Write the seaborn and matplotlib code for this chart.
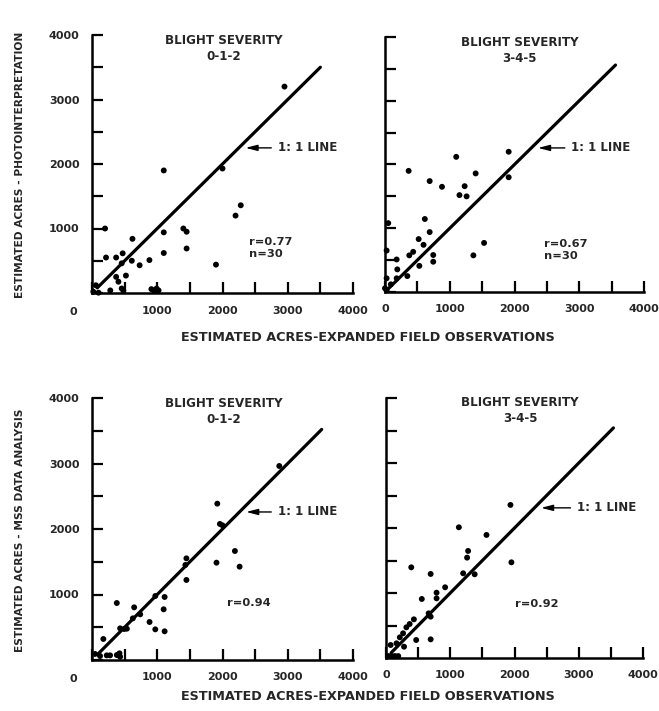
import matplotlib
matplotlib.use("Agg")
import matplotlib.pyplot as plt
from matplotlib.ticker import MultipleLocator, FixedLocator
import seaborn as sns

# ---------------- data ----------------
photo_low_x = [2950, 1100, 2000, 2280, 2200, 200, 1100, 1400, 1450, 1450, 1100, 620, 470, 215, 370,
               610, 730, 880, 455, 1900, 520, 370, 405, 60, 280, 455, 480, 910, 950, 990, 1020, 1000, 20, 100]
photo_low_y = [3200, 1900, 1930, 1360, 1200, 1000, 940, 1000, 950, 690, 620, 840, 615, 550, 550,
               500, 430, 510, 460, 440, 270, 250, 175, 120, 40, 70, 40, 60, 40, 70, 40, 30, 20, 5]

photo_high_x = [1910, 1910, 1100, 1400, 365, 690, 880, 1230, 1150, 1260, 50, 615, 690, 520, 595, 1530,
                1365, 435, 375, 745, 745, 530, 25, 180, 190, 345, 180, 25, 90, 0, 25]
photo_high_y = [2200, 1800, 2120, 1860, 1900, 1740, 1650, 1660, 1520, 1500, 1080, 1145, 940, 830, 740, 770,
                575, 630, 575, 580, 475, 410, 650, 510, 355, 250, 215, 215, 120, 58, 30]

mss_low_x = [2870, 1920, 1960, 2000, 1447, 1431, 1908, 2190, 2262, 1447, 970, 1113, 380, 646, 1098, 739,
             626, 882, 970, 1113, 431, 492, 534, 174, 46, 123, 226, 277, 380, 421, 431]
mss_low_y = [2962, 2387, 2077, 2056, 1552, 1451, 1486, 1664, 1425, 1222, 977, 962, 870, 804, 774, 697,
             636, 580, 468, 438, 483, 473, 478, 321, 92, 61, 71, 71, 76, 102, 50]

mss_high_x = [1937, 1952, 1134, 1564, 1278, 1262, 1201, 1380, 393, 695, 920, 787, 787, 557, 664, 695,
              434, 368, 317, 470, 695, 215, 281, 72, 36, 87, 138, 190, 266, 164]
mss_high_y = [2355, 1472, 2011, 1893, 1647, 1544, 1303, 1288, 1395, 1293, 1088, 1005, 918, 908, 687, 636,
              595, 523, 472, 277, 287, 318, 174, 200, 30, 30, 30, 30, 380, 226]

one_to_one = [[80, 3500], [50, 3560], [90, 3520], [80, 3540]]
titles = ["BLIGHT SEVERITY\n0-1-2", "BLIGHT SEVERITY\n3-4-5", "BLIGHT SEVERITY\n0-1-2", "BLIGHT SEVERITY\n3-4-5"]
stats = ["r=0.77\nn=30", "r=0.67\nn=30", "r=0.94", "r=0.92"]
tick_values = [0, 1000, 2000, 3000, 4000]
tick_labels = ["0", "1000", "2000", "3000", "4000"]
xlabel = "ESTIMATED ACRES-EXPANDED FIELD OBSERVATIONS"
ylabels = ["ESTIMATED ACRES - PHOTOINTERPRETATION", "ESTIMATED ACRES - MSS DATA ANALYSIS"]

series = [(photo_low_x, photo_low_y), (photo_high_x, photo_high_y),
          (mss_low_x, mss_low_y), (mss_high_x, mss_high_y)]

# ---------------- layout ----------------
W, H = 659, 711
sns.set_style("ticks")
plt.rcParams['font.family'] = ['DejaVu Sans']
plt.rcParams['font.weight'] = 'bold'

fig = plt.figure(figsize=(W / 100, H / 100), dpi=100)

# axes rectangles in pixels: left, top(4000), right(4000), bottom(0)
rects = [(92, 35, 353, 293), (385, 37, 644, 292), (92, 398, 353, 660), (386, 398, 643, 658)]
title_pos = [(2015, 3790), (2077, 3790), (2015, 3800), (2085, 3800)]
stat_pos = [(2400, 700), (2460, 660), (2070, 870), (2000, 830)]
arrow_y = [2250, 2260, 2260, 2310]
text_x = [2850, 2880, 2850, 2975]

TICK_FS = 8
for i, ((xs, ys), (l, t, r, b)) in enumerate(zip(series, rects)):
    ax = fig.add_axes([l / W, 1 - b / H, (r - l) / W, (b - t) / H])
    ax.set_facecolor('white')
    sns.scatterplot(x=xs, y=ys, ax=ax, color='black', s=18, edgecolor='none', clip_on=False, zorder=3)
    sns.lineplot(x=one_to_one[i], y=one_to_one[i], ax=ax, color='black', lw=2.3)
    ax.set_xlim(0, 4000)
    ax.set_ylim(0, 4000)
    for s in ['top', 'right']:
        ax.spines[s].set_visible(False)
    for s in ['left', 'bottom']:
        ax.spines[s].set_linewidth(1.8)
        ax.spines[s].set_color('black')
    ax.xaxis.set_major_locator(FixedLocator(tick_values))
    ax.yaxis.set_major_locator(FixedLocator(tick_values))
    ax.xaxis.set_minor_locator(MultipleLocator(500))
    ax.yaxis.set_minor_locator(MultipleLocator(500))
    ax.tick_params(which='both', direction='in', length=8, width=1.6, color='black')
    ax.tick_params(which='major', labelsize=TICK_FS, pad=9)
    left = (i % 2 == 0)
    xl = list(tick_labels)
    if left:
        xl[0] = ""
    ax.set_xticklabels(xl, fontweight='bold')
    if left:
        yl = [""] + tick_labels[1:]
        ax.set_yticklabels(yl, fontweight='bold')
        ax.annotate("0", xy=(0, 0), xycoords='data', xytext=(-13.5, -13.5), textcoords='offset points',
                    ha='center', va='center', fontsize=TICK_FS, fontweight='bold', annotation_clip=False)
    else:
        ax.set_yticklabels([])
    ax.set_xlabel("")
    ax.set_ylabel("")
    ax.text(title_pos[i][0], title_pos[i][1], titles[i], ha='center', va='center',
            fontsize=8.6, fontweight='bold', linespacing=1.3)
    ax.text(stat_pos[i][0], stat_pos[i][1], stats[i], ha='left', va='center',
            fontsize=8.2, fontweight='bold', linespacing=1.3)
    ay = arrow_y[i]
    ax.annotate("", xy=(ay + 60, ay), xytext=(text_x[i] - 60, ay),
                arrowprops=dict(arrowstyle='-|>,head_length=0.7,head_width=0.18', lw=1.0, color='black'))
    ax.text(text_x[i], ay, "1: 1 LINE", ha='left', va='center', fontsize=8.5, fontweight='bold')

fig.text(368 / W, 1 - 337 / H, xlabel, ha='center', va='center', fontsize=9.2, fontweight='bold')
fig.text(368 / W, 1 - 697 / H, xlabel, ha='center', va='center', fontsize=9.2, fontweight='bold')
fig.text(20 / W, 1 - 165 / H, ylabels[0], ha='center', va='center', rotation=90, fontsize=7.7, fontweight='bold')
fig.text(20 / W, 1 - 530 / H, ylabels[1], ha='center', va='center', rotation=90, fontsize=7.7, fontweight='bold')

fig.savefig("out.png", dpi=100, facecolor='white')
